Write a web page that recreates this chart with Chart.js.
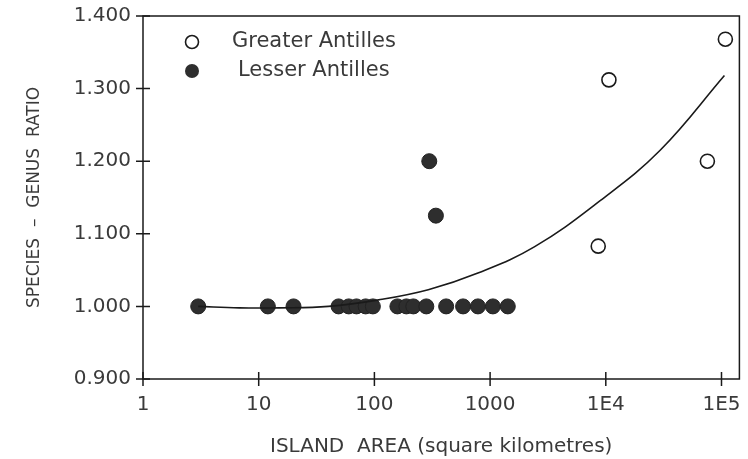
<!DOCTYPE html>
<html>
<head>
<meta charset="utf-8">
<script src="https://cdn.jsdelivr.net/npm/chart.js@4.4.1/dist/chart.umd.min.js"></script>
<style>
  html, body { margin: 0; padding: 0; background: #fff; }
  #wrap { width: 748px; height: 459px; position: relative; }
</style>
</head>
<body>
<div id="wrap"><canvas id="chart_speciesGenus"></canvas></div>
<script>
// island area (km2) vs species/genus ratio
var lesserArea = [3, 12, 20, 49, 60, 70, 84, 97, 158, 189, 217, 281, 417, 584, 785, 1057, 1422, 298, 340];
var lesserRatio = [1.000, 1.000, 1.000, 1.000, 1.000, 1.000, 1.000, 1.000, 1.000, 1.000, 1.000, 1.000, 1.000, 1.000, 1.000, 1.000, 1.000, 1.200, 1.125];
var greaterArea = [8600, 10640, 75500, 108000];
var greaterRatio = [1.083, 1.312, 1.200, 1.368];
// fitted curve
var fitArea = [3, 6.8, 15, 40, 109, 292, 785, 2410, 9000, 29500, 106000];
var fitRatio = [1.000, 0.998, 0.998, 1.000, 1.009, 1.023, 1.046, 1.082, 1.146, 1.215, 1.318];

var xTickValues = [1, 10, 100, 1000, 10000, 100000];
var xTickLabels = ['1', '10', '100', '1000', '1E4', '1E5'];
var legendLabels = ['Greater Antilles', 'Lesser Antilles'];

function toPoints(xs, ys) {
    return xs.map(function (x, i) { return { x: x, y: ys[i] }; });
}

var FONT = '"DejaVu Sans", sans-serif';
var INK = '#1a1a1a';
var TEXT = '#3a3a3a';

var chart_speciesGenus = new Chart(document.getElementById('chart_speciesGenus'), {
    type: 'scatter',
    data: {
        datasets: [
            {
                label: 'fit',
                type: 'line',
                data: toPoints(fitArea, fitRatio),
                borderColor: INK,
                borderWidth: 1.6,
                pointRadius: 0,
                fill: false,
                tension: 0.4,
                order: 0
            },
            {
                label: legendLabels[0],
                data: toPoints(greaterArea, greaterRatio),
                pointRadius: 7,
                pointBackgroundColor: '#fff',
                pointBorderColor: INK,
                pointBorderWidth: 1.6,
                order: 1
            },
            {
                label: legendLabels[1],
                data: toPoints(lesserArea, lesserRatio),
                pointRadius: 7.5,
                pointBackgroundColor: '#2e2e2e',
                pointBorderColor: '#222',
                pointBorderWidth: 1,
                order: 2
            }
        ]
    },
    options: {
        animation: false,
        responsive: true,
        maintainAspectRatio: false,
        layout: { padding: { top: 16, right: 5, left: 24, bottom: 0 } },
        plugins: {
            legend: { display: false },
            tooltip: { enabled: false }
        },
        scales: {
            x: {
                type: 'logarithmic',
                min: 1,
                max: 142800,
                afterBuildTicks: function (scale) {
                    scale.ticks = xTickValues.map(function (v) { return { value: v }; });
                },
                afterFit: function (scale) {
                    scale.height = 80;
                    scale.paddingLeft = 0;
                    scale.paddingRight = 0;
                },
                ticks: {
                    autoSkip: false,
                    maxRotation: 0,
                    padding: 14,
                    color: TEXT,
                    font: { family: FONT, size: 20 },
                    callback: function (v) {
                        var i = xTickValues.indexOf(v);
                        return i >= 0 ? xTickLabels[i] : '';
                    }
                },
                grid: { display: false, drawTicks: false },
                border: { display: false },
                title: {
                    display: true,
                    text: 'ISLAND  AREA (square kilometres)',
                    color: TEXT,
                    padding: { top: 6, bottom: 0 },
                    font: { family: FONT, size: 20 }
                }
            },
            y: {
                min: 0.9,
                max: 1.4,
                afterFit: function (scale) {
                    scale.width = 119;
                    scale.paddingTop = 0;
                    scale.paddingBottom = 0;
                },
                ticks: {
                    stepSize: 0.1,
                    padding: 12,
                    color: TEXT,
                    font: { family: FONT, size: 20 },
                    callback: function (v) { return Number(v).toFixed(3); }
                },
                grid: { display: false, drawTicks: false },
                border: { display: false },
                title: {
                    display: true,
                    text: 'SPECIES  –  GENUS  RATIO',
                    color: TEXT,
                    padding: { top: 0, bottom: 8 },
                    font: { family: FONT, size: 17 }
                }
            }
        }
    },
    plugins: [{
        id: 'frameAndLegend',
        beforeDraw: function (chart) {
            var ctx = chart.ctx;
            ctx.save();
            ctx.fillStyle = 'white';
            ctx.fillRect(0, 0, chart.width, chart.height);
            ctx.restore();
        },
        afterDatasetsDraw: function (chart) {
            var ctx = chart.ctx;
            var a = chart.chartArea;
            var xs = chart.scales.x, ys = chart.scales.y;
            ctx.save();
            ctx.strokeStyle = INK;
            ctx.lineWidth = 1.5;
            ctx.strokeRect(a.left, a.top, a.right - a.left, a.bottom - a.top);
            // crossing tick marks
            ctx.beginPath();
            xTickValues.forEach(function (v) {
                var px = xs.getPixelForValue(v);
                ctx.moveTo(px, a.bottom - 7);
                ctx.lineTo(px, a.bottom + 7);
            });
            ys.ticks.forEach(function (t) {
                var py = ys.getPixelForValue(t.value);
                ctx.moveTo(a.left - 7, py);
                ctx.lineTo(a.left + 7, py);
            });
            ctx.stroke();

            // legend inside the plot
            var lx = a.left + 49;
            var rows = [a.top + 26, a.top + 55];
            ctx.beginPath();
            ctx.arc(lx, rows[0], 6.5, 0, Math.PI * 2);
            ctx.fillStyle = '#fff';
            ctx.fill();
            ctx.lineWidth = 1.6;
            ctx.stroke();
            ctx.beginPath();
            ctx.arc(lx, rows[1], 7, 0, Math.PI * 2);
            ctx.fillStyle = '#2e2e2e';
            ctx.fill();
            ctx.fillStyle = TEXT;
            ctx.font = '21px ' + FONT;
            ctx.textBaseline = 'middle';
            ctx.textAlign = 'left';
            ctx.fillText(legendLabels[0], a.left + 89, rows[0]);
            ctx.fillText(legendLabels[1], a.left + 95, rows[1]);
            ctx.restore();
        }
    }]
});
</script>
</body>
</html>
